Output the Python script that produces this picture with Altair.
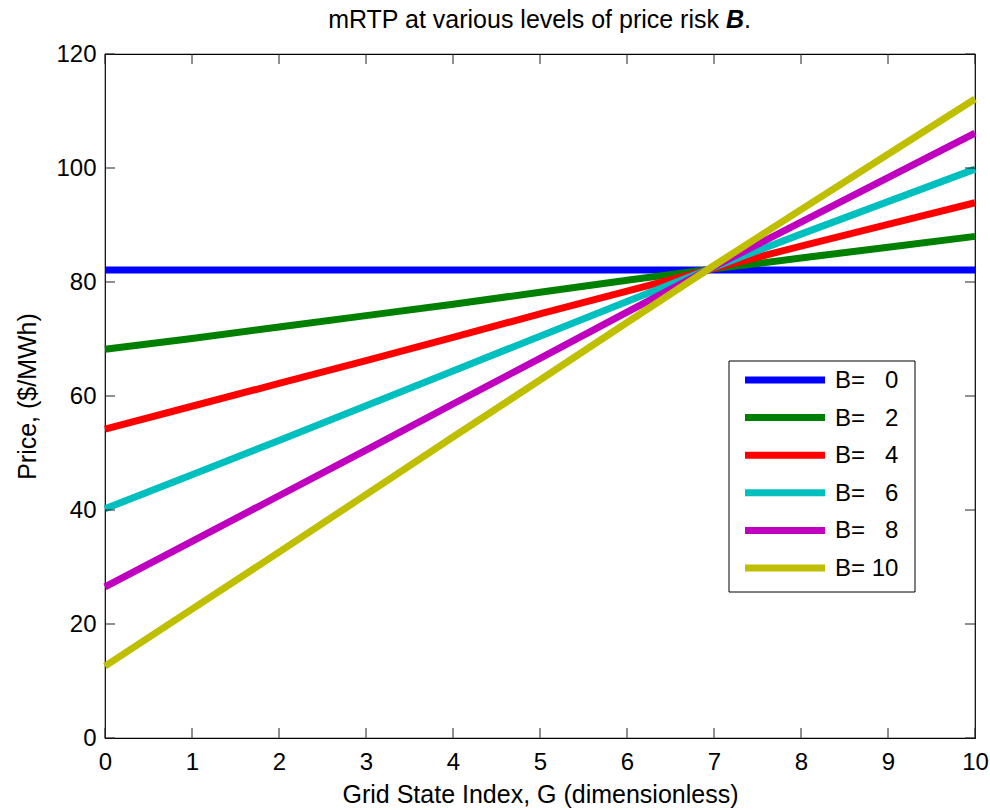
import altair as alt
import pandas as pd

# ---- data ----
G = [0, 1, 2, 3, 4, 5, 6, 7, 8, 9, 10]
B_levels = [0, 2, 4, 6, 8, 10]
price_b0 = [82.1, 82.1, 82.1, 82.1, 82.1, 82.1, 82.1, 82.1, 82.1, 82.1, 82.1]
price_b2 = [68.2, 70.1, 72.1, 74.1, 76.1, 78.2, 80.3, 82.3, 84.2, 86.1, 88.0]
price_b4 = [54.2, 58.2, 62.2, 66.2, 70.3, 74.4, 78.4, 82.4, 86.3, 90.1, 93.9]
price_b6 = [40.2, 46.2, 52.2, 58.3, 64.4, 70.5, 76.6, 82.6, 88.4, 94.1, 99.8]
price_b8 = [26.5, 34.5, 42.5, 50.5, 58.6, 66.6, 74.7, 82.7, 90.5, 98.3, 106.1]
price_b10 = [12.6, 22.6, 32.6, 42.7, 52.8, 62.8, 72.9, 82.9, 92.7, 102.4, 112.1]
series = [price_b0, price_b2, price_b4, price_b6, price_b8, price_b10]
legend_labels = ["B=\u00a0\u00a0\u00a00", "B=\u00a0\u00a0\u00a02", "B=\u00a0\u00a0\u00a04",
                 "B=\u00a0\u00a0\u00a06", "B=\u00a0\u00a0\u00a08", "B=\u00a010"]
colors = ["#0000FF", "#008000", "#FF0000", "#00BFBF", "#BF00BF", "#BFBF00"]
x_ticks = [0, 1, 2, 3, 4, 5, 6, 7, 8, 9, 10]
y_ticks = [0, 20, 40, 60, 80, 100, 120]

FONT = "Liberation Sans"
W, H = 870, 684
TL = 10  # tick length in px

rows = []
for b, vals in zip(B_levels, series):
    for g, p in zip(G, vals):
        rows.append({"G": g, "price": p, "B": b})
df = pd.DataFrame(rows)

xscale = alt.Scale(domain=[0, 10], nice=False, zero=False)
yscale = alt.Scale(domain=[0, 120], nice=False, zero=False)

lines = alt.Chart(df).mark_line(strokeWidth=7, strokeCap="butt").encode(
    x=alt.X("G:Q", scale=xscale,
            axis=alt.Axis(values=x_ticks, format="d", title="Grid State Index, G (dimensionless)",
                          grid=False, domain=False, ticks=False, tickSize=0,
                          labelFlush=False, labelOverlap=False,
                          labelPadding=12, labelFontSize=24, labelFont=FONT,
                          labelColor="black", titleFont=FONT, titleFontSize=25,
                          titleFontWeight="normal", titleColor="black",
                          titleY=64, titleX=W / 2, titleBaseline="alphabetic",
                          titleAlign="center")),
    y=alt.Y("price:Q", scale=yscale,
            axis=alt.Axis(values=y_ticks, format="d", title="Price, ($/MWh)",
                          grid=False, domain=False, ticks=False, tickSize=0,
                          labelFlush=False, labelOverlap=False,
                          labelPadding=9, labelFontSize=24, labelFont=FONT,
                          labelColor="black", titleFont=FONT, titleFontSize=25,
                          titleFontWeight="normal", titleColor="black",
                          titleX=-70, titleY=H / 2, titleAngle=270,
                          titleBaseline="alphabetic", titleAlign="center")),
    color=alt.Color("B:O", scale=alt.Scale(domain=B_levels, range=colors), legend=None),
    order=alt.Order("G:Q"),
)

# inward ticks on all four sides
xt = pd.DataFrame({"t": x_ticks})
yt = pd.DataFrame({"t": y_ticks})
rule_style = dict(color="#222222", strokeWidth=1)
ticks_bottom = alt.Chart(xt).mark_rule(**rule_style).encode(
    x=alt.X("t:Q", scale=xscale), y=alt.value(H), y2=alt.value(H - TL))
ticks_top = alt.Chart(xt).mark_rule(**rule_style).encode(
    x=alt.X("t:Q", scale=xscale), y=alt.value(0), y2=alt.value(TL))
ticks_left = alt.Chart(yt).mark_rule(**rule_style).encode(
    y=alt.Y("t:Q", scale=yscale), x=alt.value(0), x2=alt.value(TL))
ticks_right = alt.Chart(yt).mark_rule(**rule_style).encode(
    y=alt.Y("t:Q", scale=yscale), x=alt.value(W - TL), x2=alt.value(W))

# title with bold italic B
tdf = pd.DataFrame({"a": [0]})
TFS = 25
title_main = alt.Chart(tdf).mark_text(
    text="mRTP at various levels of price risk", font=FONT, fontSize=TFS,
    align="right", baseline="alphabetic", color="black"
).encode(x=alt.value(614), y=alt.value(-26))
title_b = alt.Chart(tdf).mark_text(
    text="B", font=FONT, fontSize=TFS, fontWeight="bold", fontStyle="italic",
    align="left", baseline="alphabetic", color="black"
).encode(x=alt.value(621), y=alt.value(-26))
title_dot = alt.Chart(tdf).mark_text(
    text=".", font=FONT, fontSize=TFS, align="left", baseline="alphabetic", color="black"
).encode(x=alt.value(639), y=alt.value(-26))

# legend box
legend_box = alt.Chart(tdf).mark_rect(fill="white", stroke="black", strokeWidth=1).encode(
    x=alt.value(624), x2=alt.value(810), y=alt.value(307), y2=alt.value(538))
legend_layers = []
for i, (lab, col) in enumerate(zip(legend_labels, colors)):
    yy = 326 + 37.6 * i
    legend_layers.append(
        alt.Chart(tdf).mark_rule(color=col, strokeWidth=7).encode(
            x=alt.value(640), x2=alt.value(720), y=alt.value(yy)))
    legend_layers.append(
        alt.Chart(tdf).mark_text(text=lab, font=FONT, fontSize=24, align="left",
                                 baseline="middle", color="black").encode(
            x=alt.value(730), y=alt.value(yy + 1)))

chart = alt.layer(
    lines, ticks_bottom, ticks_top, ticks_left, ticks_right,
    title_main, title_b, title_dot, legend_box, *legend_layers
).properties(
    width=W, height=H,
    padding={"left": 105, "top": 54, "right": 15, "bottom": 72},
    autosize=alt.AutoSizeParams(type="none"),
    background="white",
).configure_view(stroke="black", strokeWidth=1.2)

chart.save("out.html", embed_options={"renderer": "svg", "actions": False})
